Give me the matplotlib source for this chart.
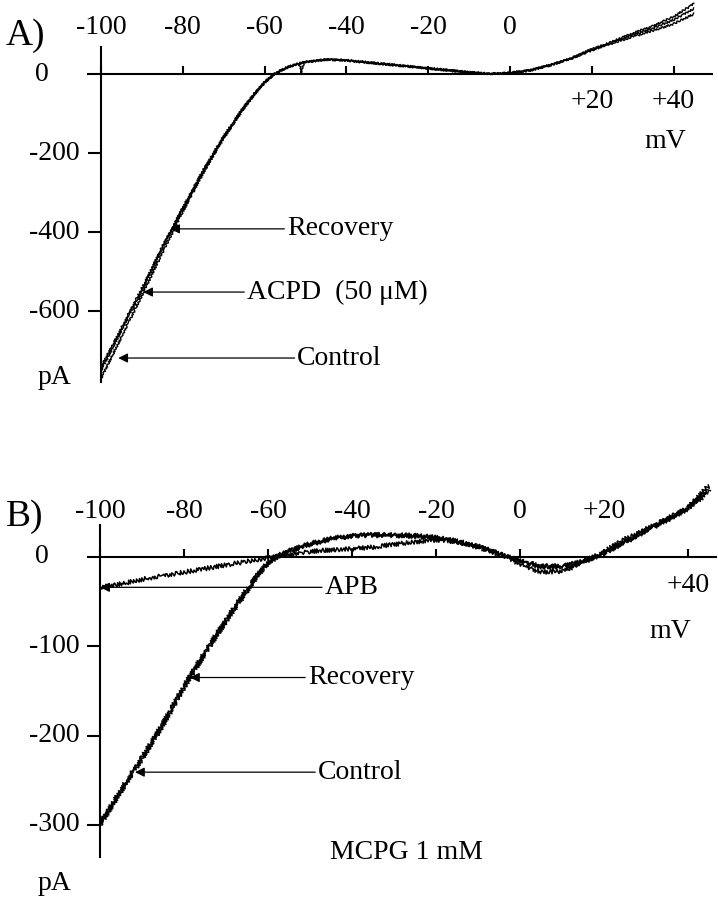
import matplotlib
matplotlib.use("Agg")
import matplotlib.pyplot as plt
from matplotlib import transforms

plt.rcParams['font.family'] = ['Liberation Serif', 'DejaVu Serif']

# ---- panel A data (mV, pA) ----
v_a = [-100, -95, -90, -85, -80, -75, -70, -65, -62.5, -60, -57.5, -55, -52.5, -50, -45, -40,
       -35, -30, -25, -20, -15, -10, -5, 0, 5, 10, 15, 20, 25, 30, 35, 40, 45]
control_a = [-770, -665, -560, -452, -348, -250, -162, -86, -52, -22, 0, 14, 24, 30, 36, 34,
             29, 24, 19, 14, 9, 4, 0, 2, 10, 23, 40, 63, 82, 103, 122, 145, 178]
acpd_a = [-742, -642, -542, -440, -338, -243, -157, -82, -49, -20, 1, 15, 25, 31, 36, 34,
          29, 24, 19, 14, 9, 4, 0, 3, 9, 22, 39, 60, 78, 94, 110, 127, 152]
v_a_rec = [-100, -95, -90, -85, -80, -75, -70, -65, -62.5, -60, -57.5, -55, -52.5, -51.5, -51,
           -50.5, -50, -45, -40, -35, -30, -25, -20, -15, -10, -5, 0, 5, 10, 15, 20, 25, 30,
           35, 40, 45]
recovery_a = [-750, -648, -548, -436, -342, -246, -160, -84, -50, -21, 0, 15, 24, 27, 2,
              28, 30, 37, 35, 30, 25, 20, 15, 10, 5, 1, 3, 10, 23, 40, 62, 80, 99,
              116, 137, 165]

# ---- panel B data ----
v_b = [-100, -95, -90, -85, -80, -75, -70, -65, -62.5, -60, -57.5, -55, -50, -45, -40, -35,
       -30, -25, -20, -15, -10, -5, 0, 5, 10, 15, 20, 25, 30, 35, 40, 45]
control_b = [-300, -262, -226, -188, -146, -108, -72, -38, -21, -7, 1, 6, 14, 20, 23, 24,
             24, 23, 21, 17, 11, 3, -5, -11, -11, -6, 4, 16, 29, 41, 54, 76]
recovery_b = [-298, -260, -224, -186, -144, -106, -70, -36, -20, -6, 2, 7, 15, 21, 24, 25,
              25, 24, 22, 18, 12, 4, -4, -10, -10, -5, 5, 17, 30, 42, 55, 80]
apb_b = [-34, -30, -25, -21, -17, -13, -9, -5, -3, -1, 1, 3, 6, 8, 9, 11,
         14, 17, 19, 17, 12, 4, -8, -17, -16, -7, 6, 20, 31, 43, 55, 72]

xticks = [-100, -80, -60, -40, -20, 0, 20, 40]
xtick_labels = ['-100', '-80', '-60', '-40', '-20', '0', '+20', '+40']
yticks_a = [-200, -400, -600]
yticks_b = [-100, -200, -300]

W, H = 718, 900
fig = plt.figure(figsize=(W / 100, H / 100), dpi=100)


def px_axes(x0, y0, x1, y1):
    return fig.add_axes([x0 / W, 1 - y1 / H, (x1 - x0) / W, (y1 - y0) / H])


def style_axes(ax, yticks):
    for s in ['top', 'right']:
        ax.spines[s].set_visible(False)
    ax.spines['bottom'].set_position(('data', 0))
    ax.spines['left'].set_position(('data', -100))
    for s in ['bottom', 'left']:
        ax.spines[s].set_linewidth(1.5)
    ax.set_xticks(xticks)
    ax.set_yticks(yticks)
    ax.tick_params(axis='x', direction='in', length=6, width=1.5, labelbottom=False)
    ax.tick_params(axis='y', direction='out', length=9.5, width=1.5, labelleft=False)
    ax.patch.set_visible(False)


def fig_y(py):
    return 1 - py / H


def fig_x(px):
    return px / W


fs = 20
arrow = dict(arrowstyle='-|>', color='black', lw=0.9, shrinkA=0, shrinkB=0,
             mutation_scale=14, relpos=(0, 0.5))

# ---------- panel A ----------
axA = px_axes(88, 47, 712, 382)
axA.set_xlim(-103.2, 49.4)
axA.set_ylim(-779.7, 68.4)
style_axes(axA, yticks_a)
for y in [control_a, acpd_a]:
    ln, = axA.plot(v_a, y, color='black', lw=1.0, clip_on=False)
    ln.set_sketch_params(scale=1.0, length=3, randomness=2)
ln, = axA.plot(v_a_rec, recovery_a, color='black', lw=1.0, clip_on=False)
ln.set_sketch_params(scale=1.0, length=3, randomness=2)

trA_x = transforms.blended_transform_factory(axA.transData, fig.transFigure)
trA_y = transforms.blended_transform_factory(fig.transFigure, axA.transData)
for v, lab in zip(xticks, xtick_labels):
    yy = fig_y(28) if v <= 0 else fig_y(102)
    axA.text(v, yy, lab, transform=trA_x, ha='center', va='center', fontsize=fs)
axA.text(fig_x(42), 0, '0', transform=trA_y, ha='center', va='center', fontsize=fs)
for t in yticks_a:
    axA.text(fig_x(80), t, str(t), transform=trA_y, ha='right', va='center', fontsize=fs)
fig.text(fig_x(55), fig_y(378), 'pA', ha='center', va='center', fontsize=fs)
fig.text(fig_x(665), fig_y(142), 'mV', ha='center', va='center', fontsize=fs)
fig.text(fig_x(25), fig_y(36), 'A)', ha='center', va='center', fontsize=27)

axA.annotate('Recovery', xy=(-83.1, -392), xytext=(-54.5, -392), ha='left', va='center',
             fontsize=fs, arrowprops=arrow)
axA.annotate('ACPD  (50 \u03bcM)', xy=(-89.7, -552), xytext=(-64.3, -552), ha='left',
             va='center', fontsize=fs, arrowprops=arrow)
axA.annotate('Control', xy=(-95.8, -719), xytext=(-52.0, -719), ha='left', va='center',
             fontsize=fs, arrowprops=arrow)

# ---------- panel B ----------
axB = px_axes(88, 525, 716, 857)
axB.set_xlim(-102.9, 46.7)
axB.set_ylim(-336, 35.8)
style_axes(axB, yticks_b)
for y in [control_b, recovery_b, apb_b]:
    ln, = axB.plot(v_b, y, color='black', lw=1.1, clip_on=False)
    ln.set_sketch_params(scale=2.2, length=3, randomness=2)

trB_x = transforms.blended_transform_factory(axB.transData, fig.transFigure)
trB_y = transforms.blended_transform_factory(fig.transFigure, axB.transData)
for v, lab in zip(xticks, xtick_labels):
    yy = fig_y(512) if v <= 20 else fig_y(585)
    axB.text(v, yy, lab, transform=trB_x, ha='center', va='center', fontsize=fs)
axB.text(fig_x(42), 0, '0', transform=trB_y, ha='center', va='center', fontsize=fs)
for t in yticks_b:
    axB.text(fig_x(80), t, str(t), transform=trB_y, ha='right', va='center', fontsize=fs)
fig.text(fig_x(55), fig_y(883), 'pA', ha='center', va='center', fontsize=fs)
fig.text(fig_x(670), fig_y(632), 'mV', ha='center', va='center', fontsize=fs)
fig.text(fig_x(25), fig_y(517), 'B)', ha='center', va='center', fontsize=27)

axB.annotate('APB', xy=(-100, -34), xytext=(-46.5, -34), ha='left', va='center',
             fontsize=fs, arrowprops=arrow)
axB.annotate('Recovery', xy=(-78.6, -135), xytext=(-50.5, -135), ha='left', va='center',
             fontsize=fs, arrowprops=arrow)
axB.annotate('Control', xy=(-91.7, -241), xytext=(-48.1, -241), ha='left', va='center',
             fontsize=fs, arrowprops=arrow)
axB.text(-45.2, -331, 'MCPG 1 mM', ha='left', va='center', fontsize=fs)

fig.savefig('out.png', dpi=100)
